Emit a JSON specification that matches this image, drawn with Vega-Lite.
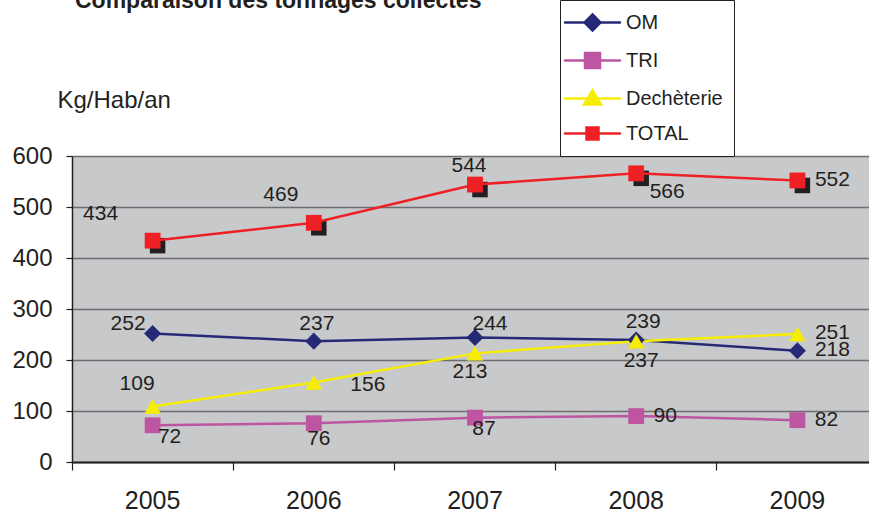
{
  "$schema": "https://vega.github.io/schema/vega-lite/v6.json",
  "autosize": "none",
  "width": 797,
  "height": 306,
  "padding": {"left": 72, "top": 156, "right": 0, "bottom": 52},
  "background": "white",
  "config": {
    "font": "Liberation Sans",
    "view": {"fill": "#c8c9cb", "stroke": null},
    "text": {"font": "Liberation Sans", "fontSize": 21, "color": "#231f20", "align": "center", "baseline": "middle"}
  },
  "title": {
    "text": "Comparaison des tonnages collectés",
    "anchor": "start",
    "frame": "group",
    "fontSize": 23,
    "fontWeight": "bold",
    "color": "#231f20",
    "font": "Liberation Sans",
    "baseline": "alphabetic",
    "dx": 3,
    "dy": 31,
    "offset": 0
  },
  "data": {
    "values": [
      {"year": "2005", "series": "OM", "v": 252},
      {"year": "2006", "series": "OM", "v": 237},
      {"year": "2007", "series": "OM", "v": 244},
      {"year": "2008", "series": "OM", "v": 239},
      {"year": "2009", "series": "OM", "v": 218},
      {"year": "2005", "series": "TRI", "v": 72},
      {"year": "2006", "series": "TRI", "v": 76},
      {"year": "2007", "series": "TRI", "v": 87},
      {"year": "2008", "series": "TRI", "v": 90},
      {"year": "2009", "series": "TRI", "v": 82},
      {"year": "2005", "series": "Dechèterie", "v": 109},
      {"year": "2006", "series": "Dechèterie", "v": 156},
      {"year": "2007", "series": "Dechèterie", "v": 213},
      {"year": "2008", "series": "Dechèterie", "v": 237},
      {"year": "2009", "series": "Dechèterie", "v": 251},
      {"year": "2005", "series": "TOTAL", "v": 434},
      {"year": "2006", "series": "TOTAL", "v": 469},
      {"year": "2007", "series": "TOTAL", "v": 544},
      {"year": "2008", "series": "TOTAL", "v": 566},
      {"year": "2009", "series": "TOTAL", "v": 552}
    ]
  },
  "encoding": {
    "x": {
      "field": "year", "type": "ordinal",
      "scale": {"type": "band", "paddingInner": 0, "paddingOuter": 0, "range": [0, 806]},
      "axis": {
        "title": null, "labelAngle": 0, "labelFontSize": 25, "labelColor": "#231f20", "labelFont": "Liberation Sans",
        "labelPadding": 18, "tickSize": 8, "tickColor": "#231f20", "tickWidth": 1.2, "bandPosition": 0,
        "domainColor": "#231f20", "domainWidth": 2, "grid": false, "labelBaseline": "top"
      }
    },
    "y": {
      "field": "v", "type": "quantitative",
      "scale": {"domain": [0, 600], "nice": false},
      "axis": {
        "title": "Kg/Hab/an", "titleAngle": 0, "titleAlign": "left", "titleBaseline": "alphabetic",
        "titleX": -15, "titleY": -49, "titleFontSize": 24, "titleFontWeight": "normal", "titleColor": "#231f20", "titleFont": "Liberation Sans",
        "values": [0, 100, 200, 300, 400, 500, 600],
        "labelFontSize": 24, "labelColor": "#231f20", "labelFont": "Liberation Sans", "labelPadding": 14,
        "tickSize": 6, "tickColor": "#231f20", "tickWidth": 1.2,
        "domainColor": "#231f20", "domainWidth": 1.5,
        "grid": true, "gridColor": "#6d6e71", "gridWidth": 1.5
      }
    }
  },
  "layer": [
    {
      "transform": [{"filter": "datum.series == 'TOTAL'"}],
      "mark": {"type": "point", "shape": "square", "filled": true, "color": "#231f20", "opacity": 1, "size": 240, "xOffset": 5, "yOffset": 5}
    },
    {
      "mark": {"type": "line", "strokeCap": "round"},
      "encoding": {
        "color": {
          "field": "series", "type": "nominal",
          "scale": {"domain": ["OM", "TRI", "Dechèterie", "TOTAL"], "range": ["#262a76", "#bd55a3", "#f5ee00", "#ee2024"]},
          "legend": {
            "title": null, "orient": "none", "legendX": 488, "legendY": -156,
            "direction": "vertical",
            "strokeColor": "#231f20", "fillColor": "white", "padding": 11,
            "labelFontSize": 20, "labelColor": "#231f20", "labelFont": "Liberation Sans", "labelOffset": 22,
            "symbolSize": 400, "rowPadding": 12, "symbolOffset": 10,
            "encode": {
              "symbols": {
                "update": {
                  "shape": {"signal": "datum.value == 'OM' ? 'M-2.75,0H2.75M0,-0.8L0.8,0L0,0.8L-0.8,0Z' : datum.value == 'TRI' ? 'M-2.75,0H2.75M-0.75,-0.75H0.75V0.75H-0.75Z' : datum.value == 'Dechèterie' ? 'M-2.75,0H2.75M0,-0.8L0.85,0.6H-0.85Z' : 'M-2.75,0H2.75M-0.6,-0.6H0.6V0.6H-0.6Z'"},
                  "fill": {"signal": "datum.value == 'OM' ? '#262a76' : datum.value == 'TRI' ? '#bd55a3' : datum.value == 'Dechèterie' ? '#f5ee00' : '#ee2024'"},
                  "stroke": {"signal": "datum.value == 'OM' ? '#262a76' : datum.value == 'TRI' ? '#bd55a3' : datum.value == 'Dechèterie' ? '#f5ee00' : '#ee2024'"},
                  "strokeWidth": {"signal": "datum.value == 'TOTAL' ? 5 : 2.5"},
                  "strokeCap": {"value": "round"},
                  "opacity": {"value": 1}
                }
              }
            }
          }
        },
        "strokeWidth": {
          "field": "series", "type": "nominal",
          "scale": {"domain": ["OM", "TRI", "Dechèterie", "TOTAL"], "range": [2.5, 2.5, 3, 5.5]},
          "legend": null
        }
      }
    },
    {
      "transform": [{"filter": "datum.series == 'OM'"}],
      "mark": {"type": "point", "shape": "diamond", "filled": true, "opacity": 1, "size": 290},
      "encoding": {"color": {"field": "series", "type": "nominal"}}
    },
    {
      "transform": [{"filter": "datum.series == 'TRI' || datum.series == 'TOTAL'"}],
      "mark": {"type": "point", "shape": "square", "filled": true, "opacity": 1, "size": 250},
      "encoding": {"color": {"field": "series", "type": "nominal"}}
    },
    {
      "transform": [{"filter": "datum.series == 'Dechèterie'"}],
      "mark": {"type": "point", "shape": "triangle-up", "filled": true, "opacity": 1, "size": 280},
      "encoding": {"color": {"field": "series", "type": "nominal"}}
    },
    {"transform": [{"filter": "datum.series == 'TOTAL' && datum.year == '2005'"}], "mark": {"type": "text", "dx": -52, "dy": -27}, "encoding": {"text": {"field": "v"}}},
    {"transform": [{"filter": "datum.series == 'TOTAL' && datum.year == '2006'"}], "mark": {"type": "text", "dx": -33, "dy": -27.5}, "encoding": {"text": {"field": "v"}}},
    {"transform": [{"filter": "datum.series == 'TOTAL' && datum.year == '2007'"}], "mark": {"type": "text", "dx": -6, "dy": -18.5}, "encoding": {"text": {"field": "v"}}},
    {"transform": [{"filter": "datum.series == 'TOTAL' && datum.year == '2008'"}], "mark": {"type": "text", "dx": 31, "dy": 19}, "encoding": {"text": {"field": "v"}}},
    {"transform": [{"filter": "datum.year == '2009' && datum.series != 'TRI'"}], "mark": {"type": "text", "dx": 35, "dy": -0.5}, "encoding": {"text": {"field": "v"}}},
    {"transform": [{"filter": "datum.series == 'TRI' && (datum.year == '2008' || datum.year == '2009')"}], "mark": {"type": "text", "dx": 29, "dy": -0.5}, "encoding": {"text": {"field": "v"}}},
    {"transform": [{"filter": "datum.series == 'OM' && datum.year == '2005'"}], "mark": {"type": "text", "dx": -24.5, "dy": -9.5}, "encoding": {"text": {"field": "v"}}},
    {"transform": [{"filter": "datum.series == 'OM' && datum.year == '2006'"}], "mark": {"type": "text", "dx": 3, "dy": -17}, "encoding": {"text": {"field": "v"}}},
    {"transform": [{"filter": "datum.series == 'OM' && datum.year == '2007'"}], "mark": {"type": "text", "dx": 15, "dy": -13.5}, "encoding": {"text": {"field": "v"}}},
    {"transform": [{"filter": "datum.series == 'OM' && datum.year == '2008'"}], "mark": {"type": "text", "dx": 7, "dy": -18}, "encoding": {"text": {"field": "v"}}},
    {"transform": [{"filter": "datum.series == 'TRI' && datum.year == '2005'"}], "mark": {"type": "text", "dx": 17, "dy": 12}, "encoding": {"text": {"field": "v"}}},
    {"transform": [{"filter": "datum.series == 'TRI' && datum.year == '2006'"}], "mark": {"type": "text", "dx": 5, "dy": 16}, "encoding": {"text": {"field": "v"}}},
    {"transform": [{"filter": "datum.series == 'TRI' && datum.year == '2007'"}], "mark": {"type": "text", "dx": 9, "dy": 11.5}, "encoding": {"text": {"field": "v"}}},
    {"transform": [{"filter": "datum.series == 'Dechèterie' && datum.year == '2005'"}], "mark": {"type": "text", "dx": -15.5, "dy": -22}, "encoding": {"text": {"field": "v"}}},
    {"transform": [{"filter": "datum.series == 'Dechèterie' && datum.year == '2006'"}], "mark": {"type": "text", "dx": 54, "dy": 3}, "encoding": {"text": {"field": "v"}}},
    {"transform": [{"filter": "datum.series == 'Dechèterie' && datum.year == '2007'"}], "mark": {"type": "text", "dx": -5, "dy": 18.5}, "encoding": {"text": {"field": "v"}}},
    {"transform": [{"filter": "datum.series == 'Dechèterie' && datum.year == '2008'"}], "mark": {"type": "text", "dx": 5, "dy": 19.5}, "encoding": {"text": {"field": "v"}}}
  ]
}
